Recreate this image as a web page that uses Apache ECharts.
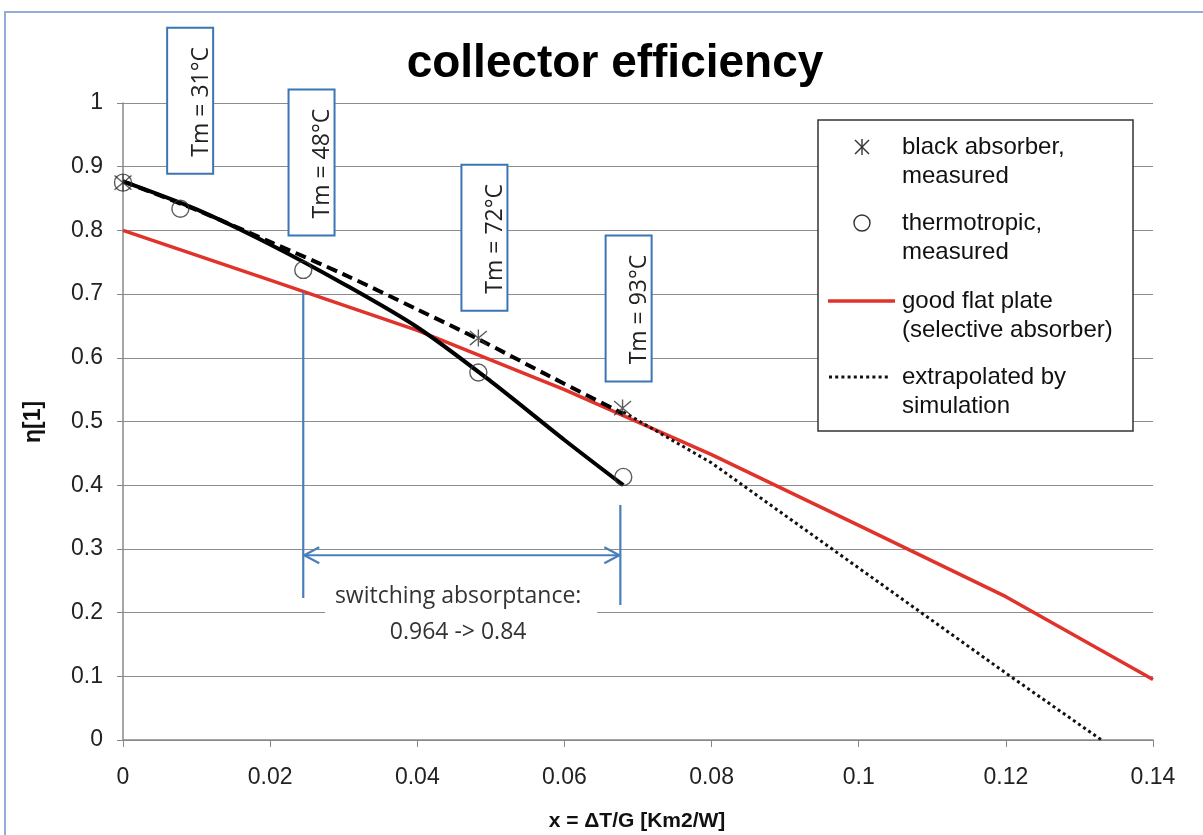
<!DOCTYPE html>
<html>
<head>
<meta charset="utf-8">
<script src="https://cdn.jsdelivr.net/npm/echarts@6/dist/echarts.min.js"></script>
<style>
html,body{margin:0;padding:0;background:#fff;}
#c{width:1203px;height:835px;}
</style>
</head>
<body>
<div id="c"></div>
<script>
// ---- data ----
const goodFlatPlate = [[0,0.80],[0.02,0.722],[0.04,0.643],[0.06,0.55],[0.08,0.448],[0.10,0.337],[0.12,0.225],[0.14,0.095]];
const extrapolated = [[0.068,0.515],[0.08,0.435],[0.10,0.27],[0.12,0.105],[0.133,0]];
const blackLine = [[0,0.877],[0.01,0.832],[0.02,0.782],[0.03,0.731],[0.04,0.676],[0.0485,0.628],[0.058,0.571],[0.068,0.512]];
const thermoLine = [[0,0.877],[0.01,0.833],[0.02,0.778],[0.03,0.716],[0.04,0.648],[0.05,0.563],[0.06,0.471],[0.068,0.40]];
const blackMeasured = [[0,0.875],[0.0483,0.631],[0.0679,0.521]];
const thermoMeasured = [[0,0.875],[0.0078,0.834],[0.0245,0.738],[0.0483,0.577],[0.068,0.413]];
const tmLabels = ['Tm = 31°C','Tm = 48°C','Tm = 72°C','Tm = 93°C'];
const legendLabels = [['black absorber,','measured'],['thermotropic,','measured'],['good flat plate','(selective absorber)'],['extrapolated by','simulation']];
const switchText = ['switching absorptance:','0.964 -> 0.84'];
const switchRange = [0.0245, 0.0676];

const chart = echarts.init(document.getElementById('c'), null, {renderer:'canvas'});
const starPath = 'path://M0,0L10,10M10,0L0,10M5,-1L5,11';
const RED = '#e0332b';
const BLUE = '#4a7ebb';
const FONT = 'Liberation Sans, Arial, sans-serif';
const FONT2 = 'Open Sans, Liberation Sans, sans-serif';

const option = {
  animation:false,
  backgroundColor:'#fff',
  grid:{left:123, right:50, top:103, bottom:95, containLabel:false},
  xAxis:{
    type:'value', min:0, max:0.14, interval:0.02,
    axisLine:{show:true, lineStyle:{color:'#888', width:1.5}},
    axisTick:{show:true, inside:false, length:7, lineStyle:{color:'#888'}},
    splitLine:{show:false},
    axisLabel:{fontFamily:FONT, fontSize:23, color:'#222', margin:26}
  },
  yAxis:{
    type:'value', min:0, max:1, interval:0.1,
    axisLine:{show:true, lineStyle:{color:'#888', width:1.5}},
    axisTick:{show:true, length:6, lineStyle:{color:'#888'}},
    splitLine:{show:true, lineStyle:{color:'#8c8c8c', width:1.2}},
    axisLabel:{fontFamily:FONT, fontSize:23, color:'#222', margin:20}
  },
  series:[
    {name:'good flat plate', type:'line', data:goodFlatPlate, symbol:'none', lineStyle:{color:RED, width:3.5}, z:3},
    {name:'extrapolated', type:'line', data:extrapolated, symbol:'none', lineStyle:{color:'#111', width:3, type:[3,3.2], cap:'butt'}, z:3},
    {name:'black line', type:'line', data:blackLine, symbol:'none', smooth:0.3, lineStyle:{color:'#000', width:4, type:[11,6]}, z:4},
    {name:'thermo line', type:'line', data:thermoLine, symbol:'none', smooth:0.3, lineStyle:{color:'#000', width:4}, z:4},
    {name:'black absorber', type:'scatter', data:blackMeasured, symbol:starPath, symbolSize:17,
      itemStyle:{color:'rgba(0,0,0,0)', borderColor:'#333', borderWidth:1.4}, z:5},
    {name:'thermotropic', type:'scatter', data:thermoMeasured, symbol:'circle', symbolSize:17,
      itemStyle:{color:'rgba(0,0,0,0)', borderColor:'#333', borderWidth:1.4}, z:5}
  ]
};
chart.setOption(option);

function px(x,y){ return chart.convertToPixel({xAxisIndex:0,yAxisIndex:0},[x,y]); }

const g = [];
// outer frame
g.push({type:'polyline', shape:{points:[[5,835],[5,12],[1203,12]]}, style:{stroke:'#94acd8', lineWidth:2, fill:null}, z:100});
// title
g.push({type:'text', x:615, y:64, style:{text:'collector efficiency', fontFamily:FONT, fontSize:46, fontWeight:'bold', fill:'#000', align:'center', verticalAlign:'middle'}, z:60});
// Tm boxes (positioned by data coords of their top-left corner)
const boxAnchors = [[0.0060,1.118],[0.0225,1.021],[0.0460,0.903],[0.0656,0.792]];
boxAnchors.forEach((a,i)=>{
  const p = px(a[0],a[1]);
  g.push({type:'rect', shape:{x:p[0],y:p[1],width:46,height:146}, style:{fill:'#fff', stroke:'#3a76b5', lineWidth:2}, z:50});
  g.push({type:'text', x:p[0]+34, y:p[1]+74, rotation:Math.PI/2,
    style:{text:tmLabels[i], fontFamily:FONT2, fontSize:23, fill:'#222', align:'center', verticalAlign:'middle'}, z:51});
});
// switching arrows
const a1 = px(switchRange[0],0.703), a2 = px(switchRange[0],0.223);
const b1 = px(switchRange[1],0.369), b2 = px(switchRange[1],0.212);
const h1 = px(switchRange[0],0.29), h2 = px(switchRange[1],0.29);
const bl = {stroke:BLUE, lineWidth:2.2, fill:null};
g.push({type:'line', shape:{x1:a1[0],y1:a1[1],x2:a2[0],y2:a2[1]}, style:bl, z:40});
g.push({type:'line', shape:{x1:b1[0],y1:b1[1],x2:b2[0],y2:b2[1]}, style:bl, z:40});
g.push({type:'line', shape:{x1:h1[0]+1,y1:h1[1],x2:h2[0]-1,y2:h2[1]}, style:bl, z:40});
g.push({type:'polyline', shape:{points:[[h1[0]+16,h1[1]-8],[h1[0]+1,h1[1]],[h1[0]+16,h1[1]+8]]}, style:bl, z:40});
g.push({type:'polyline', shape:{points:[[h2[0]-16,h2[1]-8],[h2[0]-1,h2[1]],[h2[0]-16,h2[1]+8]]}, style:bl, z:40});
// switching text with white background
const tc = px((switchRange[0]+switchRange[1])/2 - 0.0005, 0.2);
g.push({type:'rect', shape:{x:tc[0]-133,y:tc[1]-30,width:272,height:62}, style:{fill:'#fff'}, z:41});
g.push({type:'text', x:tc[0], y:tc[1]-16, style:{text:switchText[0], fontFamily:FONT2, fontSize:23, fill:'#333', align:'center', verticalAlign:'middle'}, z:42});
g.push({type:'text', x:tc[0], y:tc[1]+20, style:{text:switchText[1], fontFamily:FONT2, fontSize:23, fill:'#333', align:'center', verticalAlign:'middle'}, z:42});
// axis names
g.push({type:'text', x:34, y:422, rotation:Math.PI/2, style:{text:'η[1]', fontFamily:FONT, fontSize:23, fontWeight:'bold', fill:'#111', align:'center', verticalAlign:'middle'}, z:60});
g.push({type:'text', x:637, y:821, style:{text:'x = ΔT/G [Km2/W]', fontFamily:FONT, fontSize:21, fontWeight:'bold', fill:'#111', align:'center', verticalAlign:'middle'}, z:60});
// legend
const L = {x:818, y:120, w:315, h:311};
g.push({type:'rect', shape:{x:L.x,y:L.y,width:L.w,height:L.h}, style:{fill:'#fff', stroke:'#333', lineWidth:1.5}, z:70});
const rowY = [147,223,301,377];
const lineGap = 29;
legendLabels.forEach((lab,i)=>{
  g.push({type:'text', x:902, y:rowY[i], style:{text:lab[0], fontFamily:FONT, fontSize:24, fill:'#111', align:'left', verticalAlign:'middle'}, z:71});
  g.push({type:'text', x:902, y:rowY[i]+lineGap, style:{text:lab[1], fontFamily:FONT, fontSize:24, fill:'#111', align:'left', verticalAlign:'middle'}, z:71});
});
// legend symbols
const st = {stroke:'#333', lineWidth:1.4};
g.push({type:'line', shape:{x1:855,y1:140,x2:869,y2:154}, style:st, z:71});
g.push({type:'line', shape:{x1:869,y1:140,x2:855,y2:154}, style:st, z:71});
g.push({type:'line', shape:{x1:862,y1:139,x2:862,y2:155}, style:st, z:71});
g.push({type:'circle', shape:{cx:862, cy:223, r:8}, style:{stroke:'#333', lineWidth:1.4, fill:null}, z:71});
g.push({type:'line', shape:{x1:828,y1:301,x2:895,y2:301}, style:{stroke:RED, lineWidth:3.5}, z:71});
g.push({type:'line', shape:{x1:829,y1:377,x2:891,y2:377}, style:{stroke:'#111', lineWidth:3, lineDash:[3,3.2]}, z:71});

chart.setOption({graphic:{elements:g}});
</script>
</body>
</html>
